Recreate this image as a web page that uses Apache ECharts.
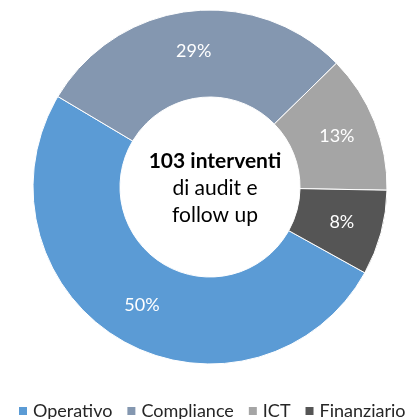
<!DOCTYPE html>
<html>
<head>
<meta charset="utf-8">
<script src="https://cdn.jsdelivr.net/npm/echarts@6/dist/echarts.min.js"></script>
<style>
  html, body { margin: 0; padding: 0; background: #fff; }
  #chart { width: 410px; height: 419px; }
</style>
</head>
<body>
<div id="chart"></div>
<script>
// numero di interventi per area (103 in totale)
const categories = ['Operativo', 'Compliance', 'ICT', 'Finanziario'];
const counts = [52, 30, 13, 8];
const colors = ['#5B9BD5', '#8497B0', '#A5A5A5', '#555555'];
const centerLines = ['103 interventi', 'di audit e', 'follow up'];

const total = counts.reduce((a, b) => a + b, 0);
const font = 'Lato';

const chart = echarts.init(document.getElementById('chart'), null, { renderer: 'canvas' });

chart.setOption({
  animation: false,
  color: colors,
  title: {
    text: '{b|' + centerLines[0] + '}\n{n|' + centerLines[1] + '}\n{n|' + centerLines[2] + '}',
    left: 210,
    top: 143,
    textAlign: 'center',
    textStyle: {
      fontWeight: 'normal',
      rich: {
        b: { fontFamily: font, fontSize: 21, fontWeight: 'bold', color: '#000', lineHeight: 27, align: 'center' },
        n: { fontFamily: font, fontSize: 21, fontWeight: 'normal', color: '#000', lineHeight: 27, align: 'center' }
      }
    }
  },
  legend: {
    left: 12,
    top: 397,
    width: 600,
    icon: 'rect',
    itemWidth: 10,
    itemHeight: 10,
    itemGap: 13,
    textStyle: { fontFamily: font, fontSize: 18, color: '#262626' },
    data: categories
  },
  series: [{
    type: 'pie',
    center: [210, 187],
    radius: [90, 177],
    startAngle: -29,
    clockwise: true,
    avoidLabelOverlap: false,
    itemStyle: { borderColor: '#fff', borderWidth: 1 },
    label: {
      position: 'inside',
      color: '#fff',
      fontFamily: font,
      fontSize: 18,
      formatter: p => Math.round(p.value / total * 100) + '%'
    },
    labelLine: { show: false },
    emphasis: { disabled: true },
    data: categories.map((c, i) => ({ name: c, value: counts[i] }))
  }]
});
</script>
</body>
</html>
